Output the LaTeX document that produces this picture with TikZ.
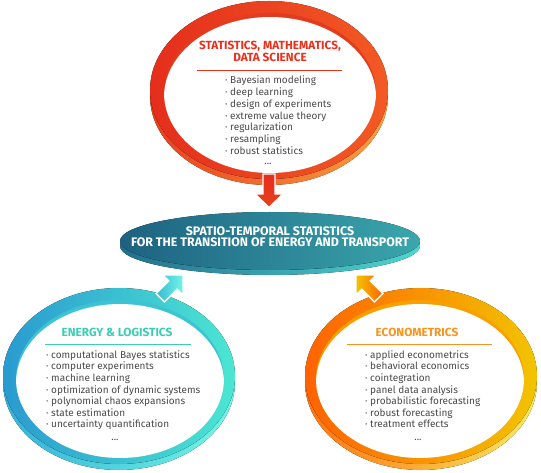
\documentclass[tikz,border=0pt]{standalone}
\usepackage{fontspec}
\setmainfont{Fira Sans}
\definecolor{bodygray}{HTML}{4A4A4A}
\definecolor{redT}{HTML}{E8321E}
\definecolor{mintT}{HTML}{3CCDB4}
\definecolor{orangeT}{HTML}{F7941D}
% top ring
\definecolor{tFaceL}{HTML}{E42E1C}
\definecolor{tFaceR}{HTML}{F25A24}
\definecolor{tWallL}{HTML}{E8401E}
\definecolor{tWallR}{HTML}{F9A040}
\definecolor{tHole}{HTML}{E63A1E}
% left ring
\definecolor{lFaceL}{HTML}{2A9AD0}
\definecolor{lFaceR}{HTML}{4CE6D2}
\definecolor{lWallL}{HTML}{35B2D6}
\definecolor{lWallR}{HTML}{72F6E6}
\definecolor{lHole}{HTML}{3CC4D4}
% right ring
\definecolor{rFaceL}{HTML}{FF6200}
\definecolor{rFaceR}{HTML}{F2C400}
\definecolor{rWallL}{HTML}{FF7410}
\definecolor{rWallR}{HTML}{F8EA60}
\definecolor{rHole}{HTML}{F9A000}
% middle
\definecolor{mFaceL}{HTML}{1D6280}
\definecolor{mFaceR}{HTML}{3AA6AC}
\definecolor{mLipL}{HTML}{236F8C}
\definecolor{mLipR}{HTML}{4ED6D0}
\begin{document}
\begin{tikzpicture}[x=1pt,y=-1pt,
  item/.style={font=\fontsize{10}{11}\selectfont, text=bodygray, inner sep=0pt, anchor=base west},
  dots/.style={font=\fontsize{10}{11}\selectfont, text=bodygray, inner sep=0pt, anchor=base},
  ringtitle/.style={font=\fontsize{11.8}{13}\selectfont\bfseries, inner sep=0pt, anchor=base},
  blockarrow/.style={draw=white, line width=1.4pt, line join=miter}]
\useasboundingbox (0,0) rectangle (541,473);

% ---------- top ring ----------
\fill[left color=tWallL, right color=tWallR] (269,96) ellipse [x radius=119pt, y radius=89pt];
\fill[left color=tFaceL, right color=tFaceR] (269,90) ellipse [x radius=119pt, y radius=89pt];
\fill[tHole] (270,93) ellipse [x radius=106pt, y radius=80pt];
\begin{scope}
  \clip (270,93) ellipse [x radius=106pt, y radius=80pt];
  \fill[white] (270,97) ellipse [x radius=106pt, y radius=80pt];
\end{scope}

% ---------- left ring ----------
\fill[left color=lWallL, right color=lWallR] (119,382) ellipse [x radius=116pt, y radius=88pt];
\fill[left color=lFaceL, right color=lFaceR] (119,376) ellipse [x radius=116pt, y radius=88pt];
\fill[lHole] (120,379) ellipse [x radius=104pt, y radius=79pt];
\begin{scope}
  \clip (120,379) ellipse [x radius=104pt, y radius=79pt];
  \fill[white] (120,383) ellipse [x radius=104pt, y radius=79pt];
\end{scope}

% ---------- right ring ----------
\fill[left color=rWallL, right color=rWallR] (421,382) ellipse [x radius=116pt, y radius=88pt];
\fill[left color=rFaceL, right color=rFaceR] (421,376) ellipse [x radius=116pt, y radius=88pt];
\fill[rHole] (420,379) ellipse [x radius=104pt, y radius=79pt];
\begin{scope}
  \clip (420,379) ellipse [x radius=104pt, y radius=79pt];
  \fill[white] (420,383) ellipse [x radius=104pt, y radius=79pt];
\end{scope}

% ---------- middle ellipse ----------
\fill[left color=mLipL, right color=mLipR] (270,246) ellipse [x radius=150pt, y radius=29pt];
\fill[left color=mFaceL, right color=mFaceR] (270,241) ellipse [x radius=150pt, y radius=29pt];
\node[font=\fontsize{12.4}{10.7}\selectfont\bfseries, text=white, inner sep=0pt, anchor=base] (center1) at (270,235.3)
  {SPATIO-TEMPORAL STATISTICS};
\node[font=\fontsize{12.4}{10.7}\selectfont\bfseries, text=white, inner sep=0pt, anchor=base] (center2) at (270,246.5)
  {FOR THE TRANSITION OF ENERGY AND TRANSPORT};

% ---------- arrows ----------
\path[blockarrow, top color=tFaceL, bottom color=tWallL]
  (263,174) -- (275,174) -- (275,194) -- (283,194) -- (269,207.5) -- (255,194) -- (263,194) -- cycle;
\path[blockarrow, left color=lFaceL!60!lFaceR, right color=lWallR]
  (156.1,293.5) -- (168.8,280.8) -- (163,275) -- (183,275) -- (183,295) -- (177.2,289.2) -- (164.5,302) -- cycle;
\path[blockarrow, left color=rFaceR, right color=rFaceL]
  (382.9,293.5) -- (370.2,280.8) -- (376,275) -- (356,275) -- (356,295) -- (361.8,289.2) -- (374.5,302) -- cycle;

% ---------- top ring text ----------
\node[ringtitle, text=redT] (ttitle1) at (270,49.3) {STATISTICS, MATHEMATICS,};
\node[ringtitle, text=redT] (ttitle2) at (270,61.7) {DATA SCIENCE};
\coordinate (tsepA) at (197,70.7);
\coordinate (tsepB) at (342,70.7);
\draw[redT, line width=0.8pt] (tsepA) -- (tsepB);
\foreach \t [count=\i] in {Bayesian modeling, deep learning, design of experiments, extreme value theory, regularization, resampling, robust statistics}
  \node[item] (titem\i) at ({225},{84+11.67*(\i-1)}) {· \t};
\node[dots] (tdots) at (268,165) {...};

% ---------- left ring text ----------
\node[ringtitle, text=mintT] (ltitle) at (117,336) {ENERGY \& LOGISTICS};
\coordinate (lsepA) at (45,344.7);
\coordinate (lsepB) at (191,344.7);
\draw[mintT, line width=0.8pt] (lsepA) -- (lsepB);
\foreach \t [count=\i] in {computational Bayes statistics, computer experiments, machine learning, optimization of dynamic systems, polynomial chaos expansions, state estimation, uncertainty quantification}
  \node[item] (litem\i) at ({46},{358.3+11.57*(\i-1)}) {· \t};
\node[dots] (ldots) at (115,440) {...};

% ---------- right ring text ----------
\node[ringtitle, text=orangeT] (rtitle) at (417,336) {ECONOMETRICS};
\coordinate (rsepA) at (347,344.7);
\coordinate (rsepB) at (492,344.7);
\draw[orangeT, line width=0.8pt] (rsepA) -- (rsepB);
\foreach \t [count=\i] in {applied econometrics, behavioral economics, cointegration, panel data analysis, probabilistic forecasting, robust forecasting, treatment effects}
  \node[item] (ritem\i) at ({365},{358.3+11.57*(\i-1)}) {· \t};
\node[dots] (rdots) at (418,440) {...};
\end{tikzpicture}
\end{document}
